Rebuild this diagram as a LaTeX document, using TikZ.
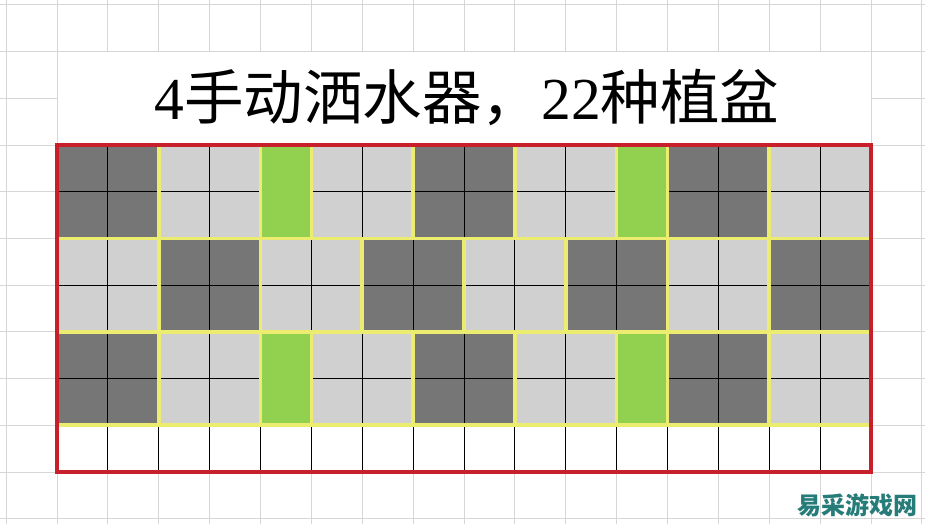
\documentclass[tikz,border=0pt]{standalone}
\usepackage{fontspec}
\newfontfamily\cjkfont{Noto Sans CJK SC}
\newfontfamily\digitfont{Liberation Serif}
\definecolor{sheetline}{RGB}{214,214,214}
\definecolor{darkcell}{RGB}{118,118,118}
\definecolor{lightcell}{RGB}{208,208,208}
\definecolor{sprinkler}{RGB}{146,208,80}
\definecolor{blockedge}{RGB}{236,236,112}
\definecolor{frame}{RGB}{200,32,42}
\definecolor{mark}{RGB}{38,124,120}
\tikzset{
  gridline/.style={draw=sheetline, line width=0.9pt},
  celline/.style={draw=black, line width=1pt},
  potedge/.style={draw=blockedge, line width=3.6pt},
  outerframe/.style={draw=frame, line width=3.4pt}
}
\begin{document}
\begin{tikzpicture}[x=50.875pt, y=-46.71pt]
\useasboundingbox (-1.1204,-3.1043) rectangle (17.0614,8.1139);
\fill[white] (-1.1204,-3.1043) rectangle (17.0614,8.1139);

% Sheet background
\foreach \i in {-1,...,17} \draw[gridline] (\i,-3.1043) -- (\i,8.1139);
\foreach \j in {-3,...,8} \draw[gridline] (-1.1204,\j) -- (17.0614,\j);
\draw[gridline, fill=white] (0,-2) rectangle (16,0);

% Title
\node (title) at (8.06,-1.02) {\fontsize{59.5}{62}\selectfont{\digitfont 4}{\cjkfont 手动洒水器，}{\digitfont 22}{\cjkfont 种植盆}};

% Plant pots, dark and light
\fill[darkcell] (0,0) rectangle (2,2) (7,0) rectangle (9,2) (12,0) rectangle (14,2)
  (2,2) rectangle (4,4) (6,2) rectangle (8,4) (10,2) rectangle (12,4) (14,2) rectangle (16,4)
  (0,4) rectangle (2,6) (7,4) rectangle (9,6) (12,4) rectangle (14,6);
\fill[lightcell] (2,0) rectangle (4,2) (5,0) rectangle (7,2) (9,0) rectangle (11,2) (14,0) rectangle (16,2)
  (0,2) rectangle (2,4) (4,2) rectangle (6,4) (8,2) rectangle (10,4) (12,2) rectangle (14,4)
  (2,4) rectangle (4,6) (5,4) rectangle (7,6) (9,4) rectangle (11,6) (14,4) rectangle (16,6);

% Cell lines
\foreach \i in {1,...,15} \draw[celline] (\i,0) -- (\i,7);
\foreach \j in {1,...,6} \draw[celline] (0,\j) -- (16,\j);

% Sprinklers
\fill[sprinkler] (4,0) rectangle (5,2) (11,0) rectangle (12,2) (4,4) rectangle (5,6) (11,4) rectangle (12,6);

% Block borders
\draw[potedge] (0,0) rectangle (2,2) (2,0) rectangle (4,2) (4,0) rectangle (5,2) (5,0) rectangle (7,2)
  (7,0) rectangle (9,2) (9,0) rectangle (11,2) (11,0) rectangle (12,2) (12,0) rectangle (14,2) (14,0) rectangle (16,2);
\draw[potedge] (0,2) rectangle (2,4) (2,2) rectangle (4,4) (4,2) rectangle (6,4) (6,2) rectangle (8,4)
  (8,2) rectangle (10,4) (10,2) rectangle (12,4) (12,2) rectangle (14,4) (14,2) rectangle (16,4);
\draw[potedge] (0,4) rectangle (2,6) (2,4) rectangle (4,6) (4,4) rectangle (5,6) (5,4) rectangle (7,6)
  (7,4) rectangle (9,6) (9,4) rectangle (11,6) (11,4) rectangle (12,6) (12,4) rectangle (14,6) (14,4) rectangle (16,6);

% Outer frame
\draw[outerframe] (0,0) rectangle (16,7);

% Watermark
\node[text=mark] (wm) at (15.74,7.72) {\fontsize{24}{26}\selectfont\cjkfont\bfseries 易采游戏网};
\end{tikzpicture}
\end{document}
